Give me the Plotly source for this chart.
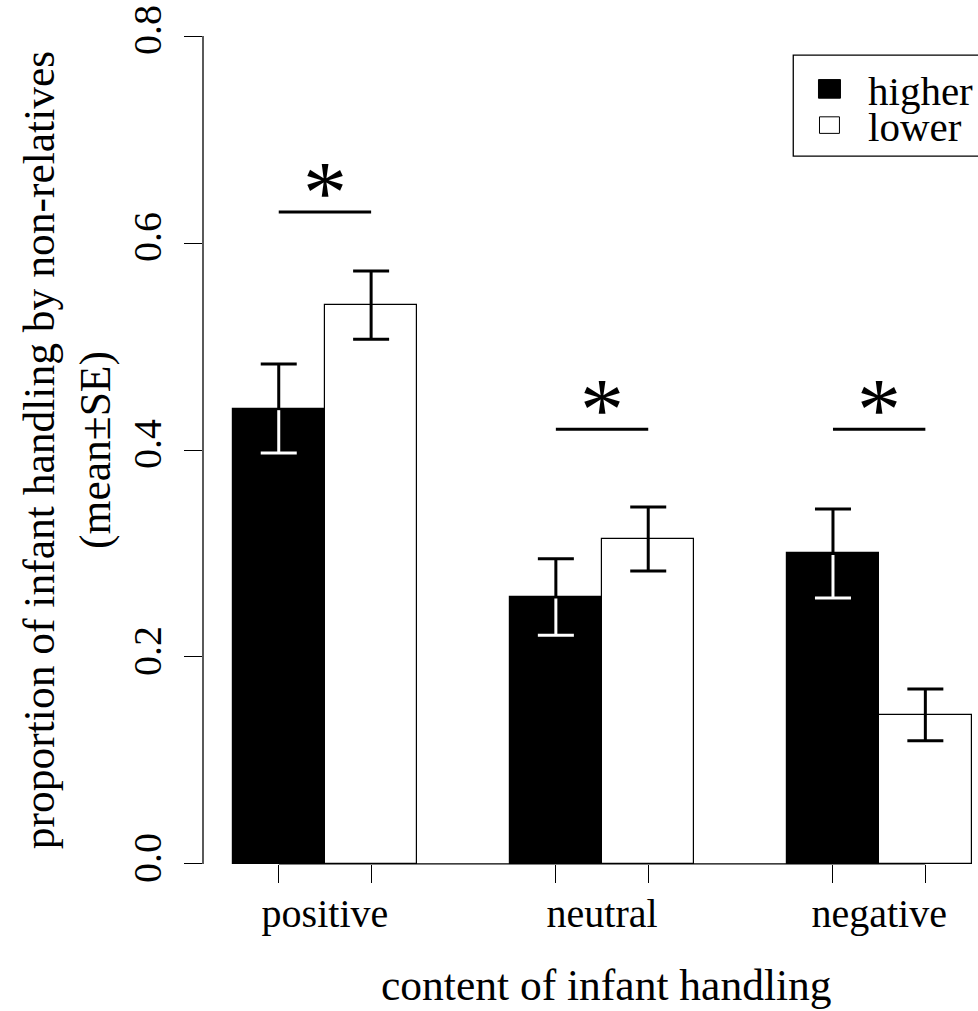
import plotly.graph_objects as go

# Data
categories = ["positive", "neutral", "negative"]
higher_mean = [0.440, 0.258, 0.300]
higher_se = [0.043, 0.037, 0.043]
lower_mean = [0.540, 0.314, 0.144]
lower_se = [0.033, 0.031, 0.025]
sig_y = [0.63, 0.42, 0.42]
sig_label = ["*", "*", "*"]
y_tick_vals = [0.0, 0.2, 0.4, 0.6, 0.8]
y_tick_text = ["0.0", "0.2", "0.4", "0.6", "0.8"]
series_names = ["higher", "lower"]

FONT = "Liberation Serif, Times New Roman, serif"
FS_TICK = 40
FS_LEG = 41
FS_TITLE = 43.5

# barplot-style positions: each group = 2 bars of width 1, one empty slot between groups
higher_x = [1.5 + 3 * i for i in range(len(categories))]
lower_x = [2.5 + 3 * i for i in range(len(categories))]
group_x = [2.0 + 3 * i for i in range(len(categories))]

X_RANGE = [0.68, 9.07]
Y_RANGE = [-0.032, 0.832]
CAP_HALF = 0.195  # half cap width in x units (matches error_y width of 18 px)

fig = go.Figure()

fig.add_trace(go.Bar(
    x=higher_x, y=higher_mean, width=1.0, name=series_names[0],
    marker=dict(color="black", line=dict(color="black", width=1.2)),
    error_y=dict(type="data", array=higher_se, color="black", thickness=3, width=18),
    showlegend=False,
))
fig.add_trace(go.Bar(
    x=lower_x, y=lower_mean, width=1.0, name=series_names[1],
    marker=dict(color="white", line=dict(color="black", width=1.2)),
    error_y=dict(type="data", array=lower_se, color="black", thickness=3, width=18),
    showlegend=False,
))

# lower half of the error bars inside the black bars is drawn in white
wx, wy = [], []
for x, m, s in zip(higher_x, higher_mean, higher_se):
    wx += [x, x, None, x - CAP_HALF, x + CAP_HALF, None]
    wy += [m - 0.0015, m - s, None, m - s, m - s, None]
fig.add_trace(go.Scatter(
    x=wx, y=wy, mode="lines", line=dict(color="white", width=3),
    hoverinfo="skip", showlegend=False,
))

# significance brackets
sx, sy = [], []
for hx, lx, y in zip(higher_x, lower_x, sig_y):
    sx += [hx, lx, None]
    sy += [y, y, None]
fig.add_trace(go.Scatter(
    x=sx, y=sy, mode="lines", line=dict(color="black", width=3),
    hoverinfo="skip", showlegend=False,
))

annotations = []
for gx, y, lab in zip(group_x, sig_y, sig_label):
    annotations.append(dict(
        x=gx, y=y - 0.030, xref="x", yref="y", text=lab, showarrow=False,
        yanchor="bottom", font=dict(family=FONT, size=88, color="black"),
    ))

# x-axis title, centred on the plotting region
annotations.append(dict(
    x=5.05, y=-0.098, xref="x", yref="paper", text="content of infant handling",
    showarrow=False, xanchor="center", yanchor="middle",
    font=dict(family=FONT, size=FS_TITLE, color="black"),
))

# legend drawn inside the plot, running off the right edge
shapes = [
    dict(type="line", xref="paper", yref="y", x0=0, x1=0, y0=0, y1=0.8,
         line=dict(color="black", width=1.3)),
    dict(type="line", xref="x", yref="y", x0=higher_x[0], x1=lower_x[-1], y0=0, y1=0,
         line=dict(color="black", width=1.3)),
    dict(type="rect", xref="x", yref="y", x0=7.07, x1=9.6, y0=0.684, y1=0.7816,
         line=dict(color="black", width=1.3), fillcolor="rgba(0,0,0,0)"),
    dict(type="rect", xref="x", yref="y", x0=7.343, x1=7.581, y0=0.740, y1=0.758,
         line=dict(color="black", width=1), fillcolor="black"),
    dict(type="rect", xref="x", yref="y", x0=7.354, x1=7.570, y0=0.706, y1=0.722,
         line=dict(color="black", width=1), fillcolor="white"),
]
for name, yv in zip(series_names, [0.747, 0.712]):
    annotations.append(dict(
        x=7.86, y=yv, xref="x", yref="y", text=name, showarrow=False,
        xanchor="left", yanchor="middle", font=dict(family=FONT, size=FS_LEG, color="black"),
    ))

fig.update_layout(
    width=978, height=1011,
    margin=dict(l=203, r=0, t=3, b=114),
    paper_bgcolor="white", plot_bgcolor="white",
    font=dict(family=FONT, size=FS_TICK, color="black"),
    shapes=shapes, annotations=annotations,
    bargap=0, barmode="overlay",
    xaxis=dict(
        range=X_RANGE, anchor="free", position=0.037,
        tickvals=higher_x + lower_x, ticktext=[""] * 6,
        ticks="outside", ticklen=18, tickwidth=1.3, tickcolor="black",
        showline=False, showgrid=False, zeroline=False,
    ),
    xaxis2=dict(
        range=X_RANGE, overlaying="x", anchor="free", position=0.037, side="bottom",
        tickvals=group_x, ticktext=categories, ticks="", ticklabelstandoff=22,
        showline=False, showgrid=False, zeroline=False,
        tickfont=dict(family=FONT, size=FS_TICK),
    ),
    yaxis=dict(
        range=Y_RANGE, tickvals=y_tick_vals, ticktext=y_tick_text,
        ticks="outside", ticklen=18, tickwidth=1.3, tickcolor="black",
        tickangle=-90, ticklabelstandoff=7,
        showline=False, showgrid=False, zeroline=False,
        tickfont=dict(family=FONT, size=FS_TICK),
        title=dict(text="proportion of infant handling by non-relatives<br>(mean±SE)",
                   standoff=0, font=dict(family=FONT, size=FS_TITLE)),
    ),
)

# dummy trace so the label axis is rendered
fig.add_trace(go.Scatter(x=[group_x[0]], y=[0], xaxis="x2", mode="markers",
                         marker=dict(opacity=0), hoverinfo="skip", showlegend=False))

fig.write_html("out.html")
